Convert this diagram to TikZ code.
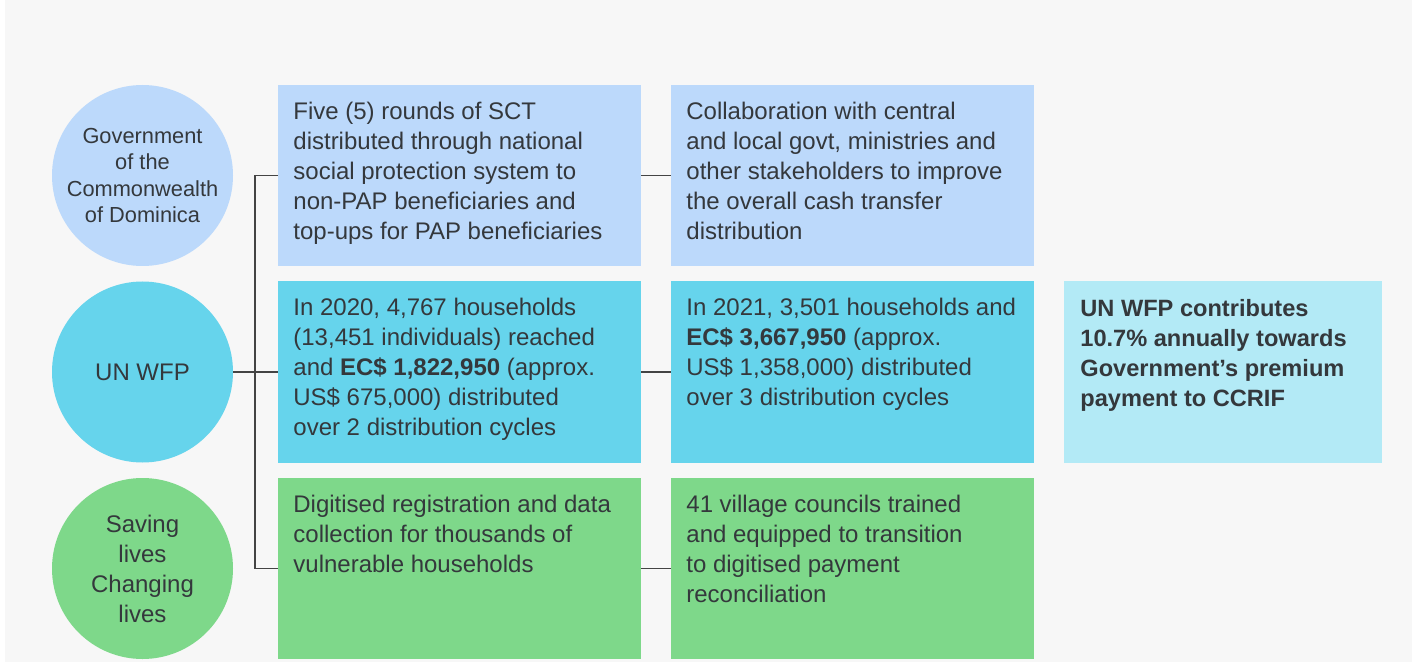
\documentclass[tikz,border=0pt]{standalone}
\usepackage{fontspec}
\setmainfont{Liberation Sans}
\usetikzlibrary{positioning}
\definecolor{pagegray}{HTML}{F7F7F7}
\definecolor{inkgray}{HTML}{34383C}
\definecolor{skyblue}{HTML}{BCD9FB}
\definecolor{wfpcyan}{HTML}{66D4EC}
\definecolor{leafgreen}{HTML}{7ED88A}
\definecolor{palecyan}{HTML}{B3EAF6}
\definecolor{linkgray}{HTML}{444444}
\tikzset{
  actor/.style={circle,minimum size=90.5pt,inner sep=0pt,outer sep=0pt,align=center,text=inkgray,font=\fontsize{12}{15}\selectfont},
  cell/.style={rectangle,minimum width=181.5pt,minimum height=90.5pt,inner sep=0pt,outer sep=0pt},
  celltext/.style={anchor=north west,inner sep=0pt,align=left,text=inkgray,font=\fontsize{12}{15}\selectfont},
  link/.style={draw=linkgray,line width=.65pt},
}

\begin{document}
\begin{tikzpicture}[x=0.5pt,y=-0.5pt,node distance=7.75pt]
			\useasboundingbox (0,0) rectangle (1416,662);
			\fill[pagegray] (5,0) rectangle (1412,662);
			
			% first column of boxes
			\node[cell,fill=skyblue,anchor=north west] (r1a) at (278,85) {};
			\node[cell,fill=wfpcyan,below=of r1a] (r2a) {};
			\node[cell,fill=leafgreen,below=of r2a] (r3a) {};
			
			% second column
			\node[cell,fill=skyblue,right=15pt of r1a] (r1b) {};
			\node[cell,fill=wfpcyan,right=15pt of r2a] (r2b) {};
			\node[cell,fill=leafgreen,right=15pt of r3a] (r3b) {};
			
			\node[cell,fill=palecyan,minimum width=159pt,minimum height=91pt,right=15pt of r2b] (ccrif) {};
			
			% actors
			\node[actor,fill=skyblue,left=22.5pt of r1a,font=\fontsize{10.9}{13.25}\selectfont] (govt)
			{Government\\of the\\Commonwealth\\of Dominica};
			\node[actor,fill=wfpcyan,left=22.5pt of r2a] (wfp) {UN WFP};
			\node[actor,fill=leafgreen,left=22.5pt of r3a] (motto)
			{Saving\\lives\\Changing\\lives};
			
			\node[celltext] (t1a) at ([xshift=7.5pt,yshift=-6.5pt]r1a.north west)
			{\strut Five (5) rounds of SCT\\distributed through national\\social protection system to\\non-PAP beneficiaries and\\top-ups for PAP beneficiaries};
			\node[celltext] (t2a) at ([xshift=7.5pt,yshift=-6.5pt]r2a.north west)
			{\strut In 2020, 4,767 households\\(13,451 individuals) reached\\and \textbf{EC\$ 1,822,950} (approx.\\US\$ 675,000) distributed\\over 2 distribution cycles};
			\node[celltext] (t3a) at ([xshift=7.5pt,yshift=-6.5pt]r3a.north west)
			{\strut Digitised registration and data\\collection for thousands of\\vulnerable households};
			\node[celltext] (t1b) at ([xshift=7.5pt,yshift=-6.5pt]r1b.north west)
			{\strut Collaboration with central\\and local govt, ministries and\\other stakeholders to improve\\the overall cash transfer\\distribution};
			\node[celltext] (t2b) at ([xshift=7.5pt,yshift=-6.5pt]r2b.north west)
			{\strut In 2021, 3,501 households and\\\textbf{EC\$ 3,667,950} (approx.\\US\$ 1,358,000) distributed\\over 3 distribution cycles};
			\node[celltext] (t3b) at ([xshift=7.5pt,yshift=-6.5pt]r3b.north west)
			{\strut 41 village councils trained\\and equipped to transition\\to digitised payment\\reconciliation};
			\node[celltext,font=\fontsize{11.8}{15}\selectfont\bfseries] (tccrif) at ([xshift=8pt,yshift=-7pt]ccrif.north west)
			{\strut UN WFP contributes\\10.7\% annually towards\\Government’s premium\\payment to CCRIF};
			
			% connectors
			\draw[link] (wfp.east) -- (r2a.west);
			\draw[link] (r1a.west) -- ++(-11.5pt,0) |- (r3a.west);
			\draw[link] (r1a.east) -- (r1b.west);
			\draw[link] (r2a.east) -- (r2b.west);
			\draw[link] (r3a.east) -- (r3b.west);
		\end{tikzpicture}
\end{document}
